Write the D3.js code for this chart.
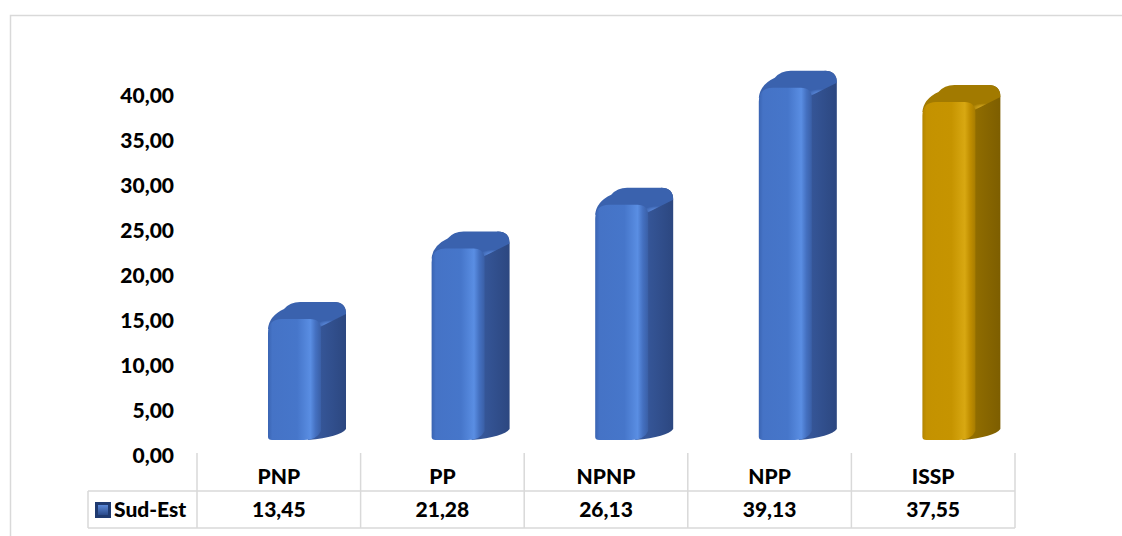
<!DOCTYPE html>
<html>
<head>
<meta charset="utf-8">
<script src="https://cdn.jsdelivr.net/npm/d3@7"></script>
<style>
  body { margin: 0; background: #fff; }
  svg { display: block; font-family: Lato, "Open Sans", sans-serif; font-weight: 900; }
</style>
</head>
<body>
<svg id="chart" width="1122" height="536"></svg>
<script>
// data
const categories = ["PNP", "PP", "NPNP", "NPP", "ISSP"];
const values = [13.45, 21.28, 26.13, 39.13, 37.55];
const seriesName = "Sud-Est";
const yTicks = [0, 5, 10, 15, 20, 25, 30, 35, 40];
const highlight = "ISSP"; // the gold bar

const fr = d3.formatLocale({decimal: ",", thousands: " ", grouping: [3], currency: ["", ""]});
const fmt = fr.format(".2f");

const svg = d3.select("#chart");
const grid = "#d9d9d9";
const fs = 21;

// chart frame
svg.append("path").attr("d", "M10.5,536 L10.5,15.5 L1122,15.5")
  .attr("fill", "none").attr("stroke", grid).attr("stroke-width", 1.5);

// scales
const x = d3.scaleBand().domain(categories).range([197, 1015]);
const y = d3.scaleLinear().domain([0, 40]).range([455, 95]);

// y axis (labels only)
const yAxis = svg.append("g").attr("transform", "translate(174,0)")
  .call(d3.axisLeft(y).tickValues(yTicks).tickSize(0).tickPadding(0).tickFormat(fmt));
yAxis.select(".domain").remove();
yAxis.selectAll("text").attr("font-size", fs).attr("font-family", "Lato, sans-serif")
  .attr("font-weight", 900).attr("fill", "#000").attr("dy", "0.36em");

// gradients
const defs = svg.append("defs");
const palettes = {
  blue: {front: ["#3a64b2", "#4573c6", "#4676ca", "#5a8ee3", "#4470c0", "#3a5fa6"],
         side: ["#3a5da3", "#2c4780"], top: "#3a62ae", spot: "#6a9cf0"},
  gold: {front: ["#b48500", "#c49200", "#c69400", "#d8a812", "#c08e00", "#a77c00"],
         side: ["#9a7400", "#7d5e00"], top: "#a27a00", spot: "#f0c030"}
};
const stops = [0, 0.08, 0.55, 0.8, 0.9, 1];
Object.entries(palettes).forEach(([k, p]) => {
  const gf = defs.append("linearGradient").attr("id", "front-" + k).attr("x1", 0).attr("x2", 1).attr("y1", 0).attr("y2", 0);
  p.front.forEach((c, i) => gf.append("stop").attr("offset", stops[i]).attr("stop-color", c));
  const gs = defs.append("linearGradient").attr("id", "side-" + k).attr("x1", 0).attr("x2", 1).attr("y1", 0).attr("y2", 0);
  p.side.forEach((c, i) => gs.append("stop").attr("offset", i).attr("stop-color", c));
  const gt = defs.append("radialGradient").attr("id", "top-" + k).attr("cx", 0.8).attr("cy", 0.85).attr("r", 0.5);
  gt.append("stop").attr("offset", 0).attr("stop-color", p.spot);
  gt.append("stop").attr("offset", 0.35).attr("stop-color", p.top);
  gt.append("stop").attr("offset", 1).attr("stop-color", p.top);
});

// 3d bars
const lift = 15, w = 52, d = 26, h = 17;
svg.append("g").selectAll("g").data(categories).join("g")
  .each(function(c, i) {
    const g = d3.select(this);
    const k = c === highlight ? "gold" : "blue";
    const x0 = x(c) + 71;
    const yb = y(0) - lift;
    const yt = y(values[i]) - lift;
    const x1 = x0 + w;
    // side face
    g.append("path").attr("fill", `url(#side-${k})`).attr("d",
      `M${x1 - 8},${yt + 2} L${x1 + d - 12},${yt - h} Q${x1 + d},${yt - h} ${x1 + d},${yt - h + 12}
       L${x1 + d},${yb - h + 6} Q${x1 + d - 6},${yb - 3} ${x1 - 12},${yb} Z`);
    // top face
    g.append("path").attr("fill", `url(#top-${k})`).attr("d",
      `M${x0},${yt + 10} Q${x0 + 1},${yt - 3} ${x0 + 16},${yt - 10} Q${x0 + 22},${yt - h} ${x0 + d + 6},${yt - h}
       L${x1 + d - 12},${yt - h} Q${x1 + d},${yt - h} ${x1 + d},${yt - h + 12} L${x1},${yt + 8} Z`);
    // front face
    g.append("path").attr("fill", `url(#front-${k})`).attr("d",
      `M${x0},${yb - 3} L${x0},${yt + 14} Q${x0},${yt} ${x0 + 14},${yt} L${x1 - 10},${yt}
       Q${x1 + 1},${yt} ${x1 + 1},${yt + 11} L${x1 + 1},${yb - 9} Q${x1 - 3},${yb} ${x1 - 16},${yb}
       L${x0 + 4},${yb} Q${x0},${yb} ${x0},${yb - 3} Z`);
  });

// data table
const tbl = svg.append("g").attr("stroke", grid).attr("stroke-width", 1.5).attr("fill", "none");
const edges = categories.map(c => x(c)).concat([x.range()[1]]);
edges.forEach(e => tbl.append("line").attr("x1", e).attr("x2", e).attr("y1", 453).attr("y2", 528));
tbl.append("line").attr("x1", 88).attr("x2", 1015).attr("y1", 491).attr("y2", 491);
tbl.append("line").attr("x1", 88).attr("x2", 1015).attr("y1", 528).attr("y2", 528);
tbl.append("line").attr("x1", 88).attr("x2", 88).attr("y1", 491).attr("y2", 528);

svg.append("g").selectAll("text").data(categories).join("text")
  .attr("x", c => x(c) + x.bandwidth() / 2).attr("y", 484)
  .attr("text-anchor", "middle").attr("font-size", fs).text(c => c);

svg.append("g").selectAll("text").data(values).join("text")
  .attr("x", (v, i) => x(categories[i]) + x.bandwidth() / 2).attr("y", 517)
  .attr("text-anchor", "middle").attr("font-size", fs).text(v => fmt(v));

// legend key
const lg = defs.append("linearGradient").attr("id", "key").attr("x1", 0).attr("x2", 0).attr("y1", 0).attr("y2", 1);
lg.append("stop").attr("offset", 0).attr("stop-color", "#5a88d8");
lg.append("stop").attr("offset", 1).attr("stop-color", "#2a4a8a");
svg.append("rect").attr("x", 95).attr("y", 502).attr("width", 16).attr("height", 16).attr("fill", "#1f3a70");
svg.append("rect").attr("x", 98).attr("y", 505).attr("width", 10).attr("height", 10).attr("fill", "url(#key)");
svg.append("text").attr("x", 114).attr("y", 517).attr("font-size", fs).text(seriesName);
</script>
</body>
</html>
